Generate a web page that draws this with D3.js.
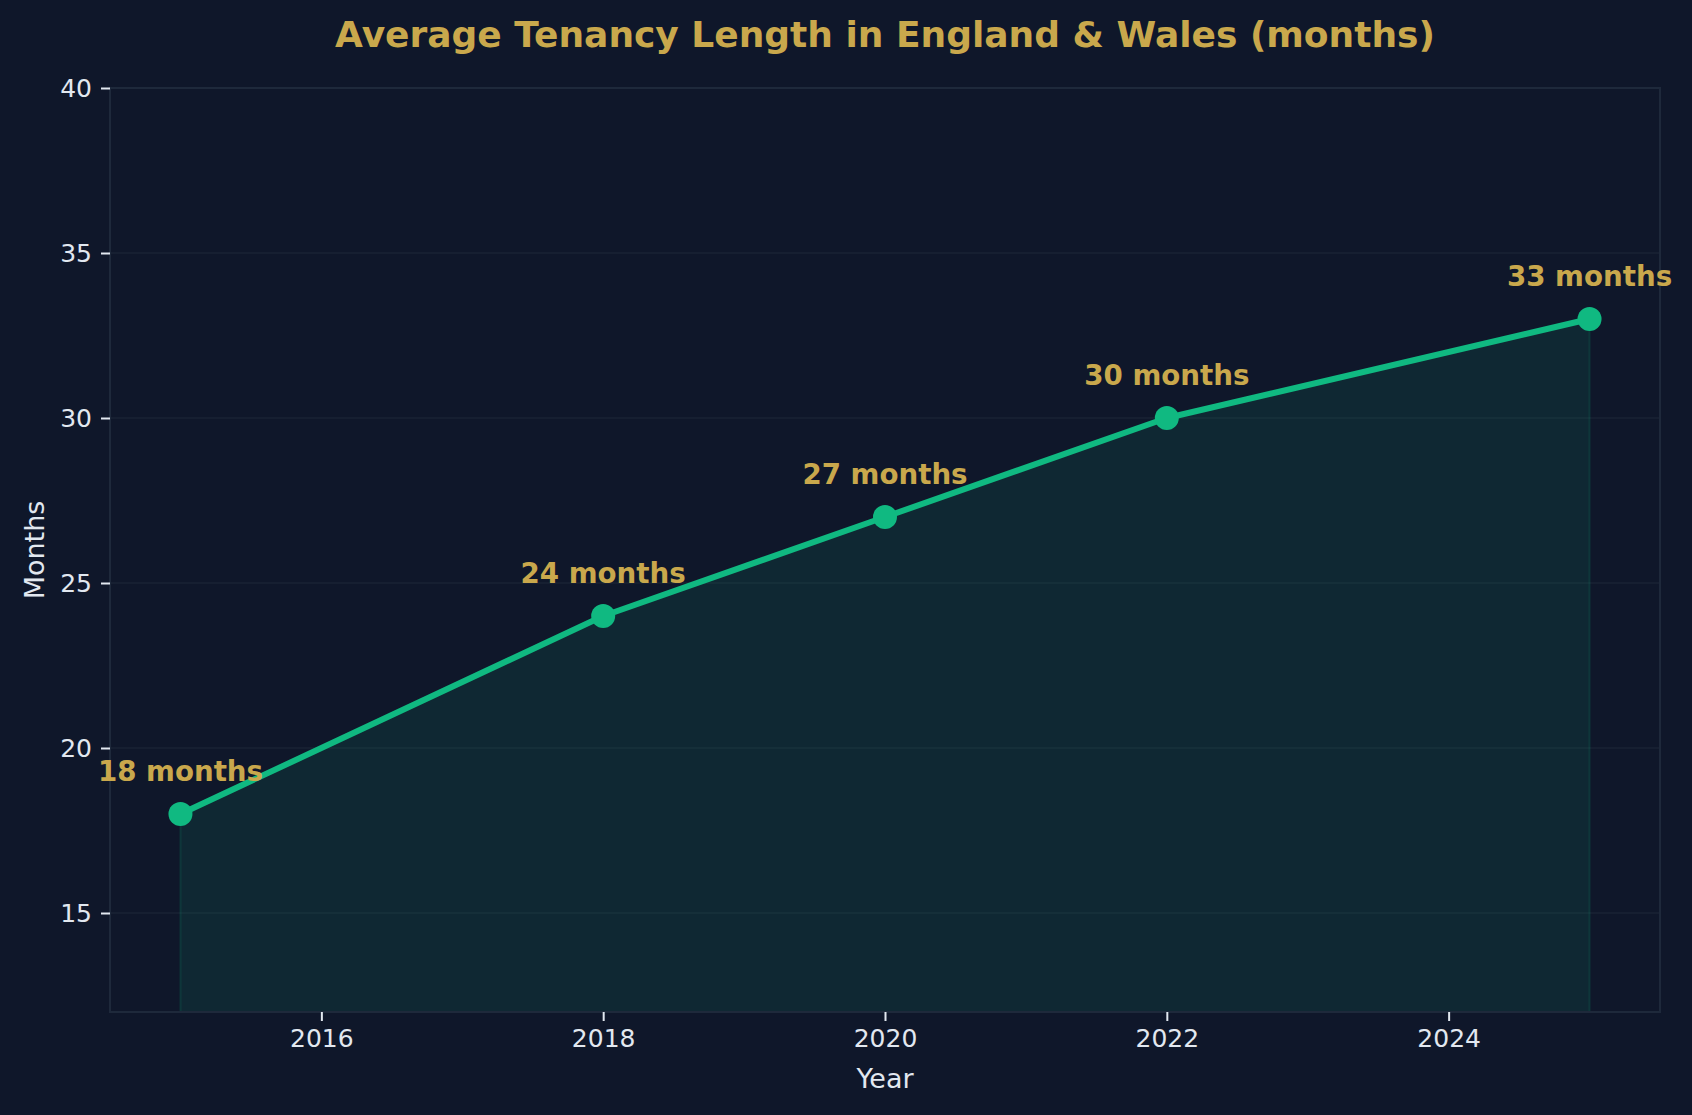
<!DOCTYPE html>
<html>
<head>
<meta charset="utf-8">
<script src="https://cdn.jsdelivr.net/npm/d3@7"></script>
<style>
  html, body { margin: 0; padding: 0; background: #0f172a; }
  svg { display: block; font-family: "DejaVu Sans", sans-serif; }
</style>
</head>
<body>
<div id="chart"></div>
<script>
// tenancy length data (months)
var years = [2015, 2018, 2020, 2022, 2025];
var months = [18, 24, 27, 30, 33];
var xTicks = [2016, 2018, 2020, 2022, 2024];
var yTicks = [15, 20, 25, 30, 35, 40];

var W = 1692, H = 1115;
var margin = {top: 88, right: 32, bottom: 103, left: 110},
    width = W - margin.left - margin.right,
    height = H - margin.top - margin.bottom;

var data = years.map(function (y, i) { return {year: y, value: months[i]}; });

var svg = d3.select("#chart")
  .append("svg")
    .attr("width", W)
    .attr("height", H);

svg.append("rect").attr("width", W).attr("height", H).attr("fill", "#0f172a");

var g = svg.append("g")
    .attr("transform", "translate(" + margin.left + "," + margin.top + ")");

var x = d3.scaleLinear().domain([2014.5, 2025.5]).range([0, width]);
var y = d3.scaleLinear().domain([12, 40]).range([height, 0]);

// grid
g.append("g")
  .selectAll("line")
  .data(yTicks)
  .enter()
  .append("line")
    .attr("x1", 0).attr("x2", width)
    .attr("y1", function (d) { return y(d); })
    .attr("y2", function (d) { return y(d); })
    .attr("stroke", "#1a2335")
    .attr("stroke-width", 1.5);

// area fill
var area = d3.area()
  .x(function (d) { return x(d.year); })
  .y0(y(12))
  .y1(function (d) { return y(d.value); });

g.append("path")
  .datum(data)
  .attr("d", area)
  .attr("fill", "#10b981")
  .attr("fill-opacity", 0.11)
  .attr("stroke", "#10b981")
  .attr("stroke-opacity", 0.15)
  .attr("stroke-width", 2);

// frame over the fill, under line and labels
g.append("rect")
  .attr("width", width).attr("height", height)
  .attr("fill", "none")
  .attr("stroke", "#1e293b")
  .attr("stroke-width", 2);

// line
var line = d3.line()
  .x(function (d) { return x(d.year); })
  .y(function (d) { return y(d.value); });

g.append("path")
  .datum(data)
  .attr("d", line)
  .attr("fill", "none")
  .attr("stroke", "#10b981")
  .attr("stroke-width", 6)
  .attr("stroke-linejoin", "round");

// dots
g.append("g")
  .selectAll("circle")
  .data(data)
  .enter()
  .append("circle")
    .attr("cx", function (d) { return x(d.year); })
    .attr("cy", function (d) { return y(d.value); })
    .attr("r", 12)
    .attr("fill", "#10b981");

// labels
g.append("g")
  .selectAll("text")
  .data(data)
  .enter()
  .append("text")
    .attr("x", function (d) { return x(d.year); })
    .attr("y", function (d) { return y(d.value) - 33; })
    .attr("text-anchor", "middle")
    .attr("font-size", 27.7)
    .attr("font-weight", "bold")
    .attr("fill", "#c9a84c")
    .text(function (d) { return d.value + " months"; });

// axes
var xAxis = g.append("g")
  .attr("transform", "translate(0," + height + ")")
  .call(d3.axisBottom(x).tickValues(xTicks).tickFormat(d3.format("d")).tickSize(9).tickPadding(8));

var yAxis = g.append("g")
  .call(d3.axisLeft(y).tickValues(yTicks).tickSize(9).tickPadding(9));

[xAxis, yAxis].forEach(function (a) {
  a.select(".domain").remove();
  a.selectAll(".tick line").attr("stroke", "#e2e8f0").attr("stroke-width", 2);
  a.selectAll(".tick text").attr("fill", "#e2e8f0").attr("font-size", 25)
    .attr("font-family", "DejaVu Sans");
});

// axis titles
svg.append("text")
  .attr("x", margin.left + width / 2)
  .attr("y", 1088)
  .attr("text-anchor", "middle")
  .attr("font-size", 27)
  .attr("fill", "#e2e8f0")
  .text("Year");

svg.append("text")
  .attr("transform", "translate(44," + (margin.top + height / 2) + ") rotate(-90)")
  .attr("text-anchor", "middle")
  .attr("font-size", 27)
  .attr("fill", "#e2e8f0")
  .text("Months");

// title
svg.append("text")
  .attr("x", margin.left + width / 2)
  .attr("y", 47)
  .attr("text-anchor", "middle")
  .attr("font-size", 36)
  .attr("font-weight", "bold")
  .attr("fill", "#c9a84c")
  .text("Average Tenancy Length in England & Wales (months)");
</script>
</body>
</html>
